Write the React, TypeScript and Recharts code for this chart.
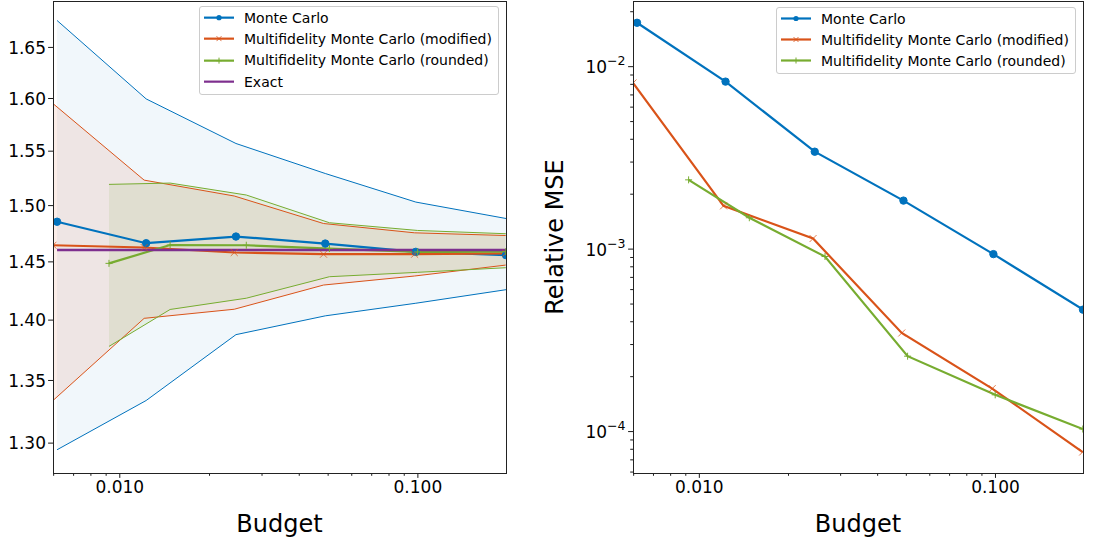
import React from 'react';
import { ComposedChart, Line, Area, XAxis, YAxis, Label, Legend } from 'recharts';

// ---- data ----
const budgetsMC = [0.00616, 0.01226, 0.02453, 0.0489, 0.0984, 0.1975];
const budgetsMod = [0.00597, 0.01207, 0.02421, 0.04825, 0.0975, 0.197];
const budgetsRnd = [0.0092, 0.01475, 0.02657, 0.0505, 0.0998, 0.1972];

const mcMean = [1.4855, 1.4664, 1.4723, 1.4661, 1.4588, 1.4559];
const mcLow = [1.2948, 1.3338, 1.3878, 1.4036, 1.4143, 1.4259];
const mcHigh = [1.677, 1.5996, 1.5572, 1.5293, 1.5032, 1.4884];

const modMean = [1.4646, 1.4626, 1.4582, 1.4567, 1.4567, 1.4575];
const modLow = [1.3338, 1.4015, 1.4092, 1.4299, 1.4377, 1.4472];
const modHigh = [1.5951, 1.5232, 1.5087, 1.4839, 1.4756, 1.4732];

const rndMean = [1.4487, 1.4648, 1.4646, 1.4617, 1.4587, 1.459];
const rndLow = [1.378, 1.409, 1.4186, 1.4371, 1.4409, 1.4449];
const rndHigh = [1.5193, 1.5205, 1.5096, 1.4846, 1.4777, 1.4748];

const exactValue = 1.4604;

const mseMC = [0.0174, 0.00828, 0.00342, 0.001845, 0.000939, 0.000466];
const mseMod = [0.00814, 0.001726, 0.001143, 0.000347, 0.000172, 0.0000773];
const mseRnd = [0.002397, 0.001486, 0.000911, 0.000259, 0.000159, 0.0001033];

const xTicks = [0.006, 0.007, 0.008, 0.009, 0.01, 0.02, 0.03, 0.04, 0.05, 0.06, 0.07, 0.08, 0.09, 0.1];
const yTicksLeft = [1.3, 1.35, 1.4, 1.45, 1.5, 1.55, 1.6, 1.65];
const yTicksRight = [
  6e-5, 7e-5, 8e-5, 9e-5, 1e-4, 2e-4, 3e-4, 4e-4, 5e-4, 6e-4, 7e-4, 8e-4, 9e-4,
  1e-3, 2e-3, 3e-3, 4e-3, 5e-3, 6e-3, 7e-3, 8e-3, 9e-3, 1e-2, 2e-2,
];

const labelsLeft = ['Monte Carlo', 'Multifidelity Monte Carlo (modified)', 'Multifidelity Monte Carlo (rounded)', 'Exact'];

// ---- styling ----
const C_MC = '#0072BD';
const C_MOD = '#D95319';
const C_RND = '#77AC30';
const C_EX = '#7E2F8E';
const FONT = "'DejaVu Sans', sans-serif";

const X_DOMAIN = [0.00597, 0.1975];
const Y1_DOMAIN = [1.2768, 1.6968];
const Y2_DOMAIN = [5.93e-5, 0.0229];

const isDecade = (v: number) => Math.abs(Math.log10(v) - Math.round(Math.log10(v))) < 1e-6;

const rows = (xs: number[], m: number[], lo?: number[], hi?: number[]) =>
  xs.map((x, i) => ({ x, m: m[i], lo: lo ? lo[i] : undefined, hi: hi ? hi[i] : undefined, band: lo && hi ? [lo[i], hi[i]] : undefined }));

const mcRows = rows(budgetsMC, mcMean, mcLow, mcHigh);
const modRows = rows(budgetsMod, modMean, modLow, modHigh);
const rndRows = rows(budgetsRnd, rndMean, rndLow, rndHigh);
const exactRows = [
  { x: budgetsMC[0], m: exactValue },
  { x: budgetsMC[budgetsMC.length - 1], m: exactValue },
];
const mseMCRows = rows(budgetsMC, mseMC);
const mseModRows = rows(budgetsMod, mseMod);
const mseRndRows = rows(budgetsRnd, mseRnd);

// ---- ticks ----
const XTick = (props: any) => {
  const { x, y, payload } = props;
  const v = payload.value;
  const major = isDecade(v);
  const len = major ? 4.9 : 2.8;
  return (
    <g>
      <line x1={x} x2={x} y1={y} y2={y + len} stroke="#000" strokeWidth={0.9} />
      {major && (
        <text x={x} y={y + 20.3} textAnchor="middle" fontSize={17} fontFamily={FONT} fill="#000">
          {v.toFixed(3)}
        </text>
      )}
    </g>
  );
};

const YTickLeft = (props: any) => {
  const { x, y, payload } = props;
  const v = payload.value;
  return (
    <g>
      <line x1={x - 4.9} x2={x} y1={y} y2={y} stroke="#000" strokeWidth={0.9} />
      <text x={x - 7} y={y + 6.2} textAnchor="end" fontSize={17} fontFamily={FONT} fill="#000">
        {v.toFixed(2)}
      </text>
    </g>
  );
};

const YTickRight = (props: any) => {
  const { x, y, payload } = props;
  const v = payload.value;
  const major = isDecade(v);
  const len = major ? 4.9 : 2.8;
  const exp = Math.round(Math.log10(v));
  return (
    <g>
      <line x1={x - len} x2={x} y1={y} y2={y} stroke="#000" strokeWidth={0.9} />
      {major && (
        <text x={x - 7.5} y={y + 6.5} textAnchor="end" fontSize={17} fontFamily={FONT} fill="#000">
          10
          <tspan dy={-8} fontSize={12.5}>
            {'\u2212' + Math.abs(exp)}
          </tspan>
        </text>
      )}
    </g>
  );
};

// ---- markers ----
const circleDot = (color: string, r: number) => (p: any) => {
  if (p.cx == null || p.cy == null) return <g key={`c${p.index}`} />;
  return <circle key={`c${p.index}`} cx={p.cx} cy={p.cy} r={r} fill={color} stroke={color} strokeWidth={1} />;
};
const xDot = (color: string, s: number) => (p: any) => {
  if (p.cx == null || p.cy == null) return <g key={`x${p.index}`} />;
  const { cx, cy } = p;
  return (
    <g key={`x${p.index}`} stroke={color} strokeWidth={1} opacity={0.75}>
      <line x1={cx - s} y1={cy - s} x2={cx + s} y2={cy + s} />
      <line x1={cx - s} y1={cy + s} x2={cx + s} y2={cy - s} />
    </g>
  );
};
const plusDot = (color: string, s: number) => (p: any) => {
  if (p.cx == null || p.cy == null) return <g key={`p${p.index}`} />;
  const { cx, cy } = p;
  return (
    <g key={`p${p.index}`} stroke={color} strokeWidth={1}>
      <line x1={cx - s} y1={cy} x2={cx + s} y2={cy} />
      <line x1={cx} y1={cy - s} x2={cx} y2={cy + s} />
    </g>
  );
};

// ---- legend ----
type LegItem = { label: string; color: string; marker: 'o' | 'x' | '+' | 'none' };
const LegendBox = ({ items, rowH }: { items: LegItem[]; rowH: number }) => (
  <div
    style={{
      width: 300,
      border: '1px solid #cccccc',
      borderRadius: 3,
      background: 'rgba(255,255,255,0.85)',
      padding: '0 0 2px 0',
      boxSizing: 'border-box',
      fontFamily: FONT,
      fontSize: 14,
      color: '#000',
    }}
  >
    {items.map((it) => (
      <div key={it.label} style={{ display: 'flex', alignItems: 'center', height: rowH, whiteSpace: 'nowrap' }}>
        <svg width={44} height={rowH} style={{ flex: 'none' }}>
          <line x1={4} x2={34} y1={rowH / 2} y2={rowH / 2} stroke={it.color} strokeWidth={2.2} />
          {it.marker === 'o' && <circle cx={19} cy={rowH / 2} r={2.6} fill={it.color} />}
          {it.marker === 'x' && (
            <g stroke={it.color} strokeWidth={1} opacity={0.8}>
              <line x1={16.5} y1={rowH / 2 - 2.5} x2={21.5} y2={rowH / 2 + 2.5} />
              <line x1={16.5} y1={rowH / 2 + 2.5} x2={21.5} y2={rowH / 2 - 2.5} />
            </g>
          )}
          {it.marker === '+' && (
            <g stroke={it.color} strokeWidth={1}>
              <line x1={16} y1={rowH / 2} x2={22} y2={rowH / 2} />
              <line x1={19} y1={rowH / 2 - 3} x2={19} y2={rowH / 2 + 3} />
            </g>
          )}
        </svg>
        <span>{it.label}</span>
      </div>
    ))}
  </div>
);

const legendLeft: LegItem[] = [
  { label: labelsLeft[0], color: C_MC, marker: 'o' },
  { label: labelsLeft[1], color: C_MOD, marker: 'x' },
  { label: labelsLeft[2], color: C_RND, marker: '+' },
  { label: labelsLeft[3], color: C_EX, marker: 'none' },
];
const legendRight: LegItem[] = legendLeft.slice(0, 3);

const BudgetLabel = (p: any) => {
  const vb = p.viewBox || {};
  return (
    <text x={vb.x + vb.width / 2} y={vb.y + 58.5} textAnchor="middle" fontSize={24} fontFamily={FONT} fill="#000">
      Budget
    </text>
  );
};

const MseLabel = (p: any) => {
  const vb = p.viewBox || {};
  const cx = vb.x + 23;
  const cy = vb.y + vb.height / 2;
  return (
    <text x={cx} y={cy} transform={`rotate(-90, ${cx}, ${cy})`} textAnchor="middle" fontSize={24} fontFamily={FONT} fill="#000">
      Relative MSE
    </text>
  );
};

const Frame = ({ left, top, width, height }: any) => (
  <div
    style={{
      position: 'absolute',
      left,
      top,
      width,
      height,
      border: '1px solid #222',
      boxSizing: 'border-box',
      pointerEvents: 'none',
    }}
  />
);

export default function App() {
  return (
    <div style={{ position: 'absolute', left: 0, top: 0, width: 1094, height: 544, background: '#fff' }}>
      {/* left panel */}
      <div style={{ position: 'absolute', left: 0, top: 0 }}>
        <ComposedChart width={520} height={544} margin={{ top: 1, right: 14, bottom: 0, left: 0 }}>
          <XAxis
            xAxisId="x"
            type="number"
            dataKey="x"
            scale="log"
            domain={X_DOMAIN}
            allowDataOverflow
            ticks={xTicks}
            interval={0}
            tick={<XTick />}
            tickLine={false}
            axisLine={false}
            tickSize={0}
            tickMargin={0}
            height={71}
          >
            <Label content={BudgetLabel} />
          </XAxis>
          <YAxis
            yAxisId="y"
            type="number"
            scale="log"
            domain={Y1_DOMAIN}
            allowDataOverflow
            ticks={yTicksLeft}
            interval={0}
            tick={<YTickLeft />}
            tickLine={false}
            axisLine={false}
            tickSize={0}
            tickMargin={0}
            width={53}
          />
          <Legend
            layout="vertical"
            align="center"
            verticalAlign="middle"
            wrapperStyle={{ left: 199, top: 6, width: 300, height: 'auto' }}
            content={() => <LegendBox items={legendLeft} rowH={21.3} />}
          />
          <Area xAxisId="x" yAxisId="y" data={mcRows} dataKey="band" type="linear" fill={C_MC} fillOpacity={0.055} stroke="none" isAnimationActive={false} legendType="none" />
          <Area xAxisId="x" yAxisId="y" data={modRows} dataKey="band" type="linear" fill={C_MOD} fillOpacity={0.1} stroke="none" isAnimationActive={false} legendType="none" />
          <Area xAxisId="x" yAxisId="y" data={rndRows} dataKey="band" type="linear" fill={C_RND} fillOpacity={0.11} stroke="none" isAnimationActive={false} legendType="none" />

          <Line xAxisId="x" yAxisId="y" data={mcRows} dataKey="hi" stroke={C_MC} strokeWidth={1} dot={false} isAnimationActive={false} legendType="none" />
          <Line xAxisId="x" yAxisId="y" data={mcRows} dataKey="lo" stroke={C_MC} strokeWidth={1} dot={false} isAnimationActive={false} legendType="none" />
          <Line xAxisId="x" yAxisId="y" data={modRows} dataKey="hi" stroke={C_MOD} strokeWidth={1} dot={false} isAnimationActive={false} legendType="none" />
          <Line xAxisId="x" yAxisId="y" data={modRows} dataKey="lo" stroke={C_MOD} strokeWidth={1} dot={false} isAnimationActive={false} legendType="none" />
          <Line xAxisId="x" yAxisId="y" data={rndRows} dataKey="hi" stroke={C_RND} strokeWidth={1} dot={false} isAnimationActive={false} legendType="none" />
          <Line xAxisId="x" yAxisId="y" data={rndRows} dataKey="lo" stroke={C_RND} strokeWidth={1} dot={false} isAnimationActive={false} legendType="none" />

          <Line xAxisId="x" yAxisId="y" data={mcRows} dataKey="m" stroke={C_MC} strokeWidth={2.2} dot={circleDot(C_MC, 3.7)} isAnimationActive={false} />
          <Line xAxisId="x" yAxisId="y" data={modRows} dataKey="m" stroke={C_MOD} strokeWidth={2.2} dot={xDot(C_MOD, 3.5)} isAnimationActive={false} />
          <Line xAxisId="x" yAxisId="y" data={rndRows} dataKey="m" stroke={C_RND} strokeWidth={2.2} dot={plusDot(C_RND, 3.5)} isAnimationActive={false} />
          <Line xAxisId="x" yAxisId="y" data={exactRows} dataKey="m" stroke={C_EX} strokeWidth={2.5} dot={false} isAnimationActive={false} />
        </ComposedChart>
        <Frame left={53} top={1} width={453.5} height={472.5} />
      </div>

      {/* right panel */}
      <div style={{ position: 'absolute', left: 540, top: 0 }}>
        <ComposedChart width={554} height={544} margin={{ top: 1, right: 11, bottom: 0, left: 0 }}>
          <XAxis
            xAxisId="x"
            type="number"
            dataKey="x"
            scale="log"
            domain={X_DOMAIN}
            allowDataOverflow
            ticks={xTicks}
            interval={0}
            tick={<XTick />}
            tickLine={false}
            axisLine={false}
            tickSize={0}
            tickMargin={0}
            height={71}
          >
            <Label content={BudgetLabel} />
          </XAxis>
          <YAxis
            yAxisId="y"
            type="number"
            scale="log"
            domain={Y2_DOMAIN}
            allowDataOverflow
            ticks={yTicksRight}
            interval={0}
            tick={<YTickRight />}
            tickLine={false}
            axisLine={false}
            tickSize={0}
            tickMargin={0}
            width={93}
          >
            <Label content={MseLabel} />
          </YAxis>
          <Legend
            layout="vertical"
            align="center"
            verticalAlign="middle"
            wrapperStyle={{ left: 236, top: 7, width: 300, height: 'auto' }}
            content={() => <LegendBox items={legendRight} rowH={21} />}
          />
          <Line xAxisId="x" yAxisId="y" data={mseMCRows} dataKey="m" stroke={C_MC} strokeWidth={2.2} dot={circleDot(C_MC, 3.7)} isAnimationActive={false} />
          <Line xAxisId="x" yAxisId="y" data={mseModRows} dataKey="m" stroke={C_MOD} strokeWidth={2.2} dot={xDot(C_MOD, 3.5)} isAnimationActive={false} />
          <Line xAxisId="x" yAxisId="y" data={mseRndRows} dataKey="m" stroke={C_RND} strokeWidth={2.2} dot={plusDot(C_RND, 3.5)} isAnimationActive={false} />
        </ComposedChart>
        <Frame left={93} top={1} width={450.5} height={472.5} />
      </div>
    </div>
  );
}
